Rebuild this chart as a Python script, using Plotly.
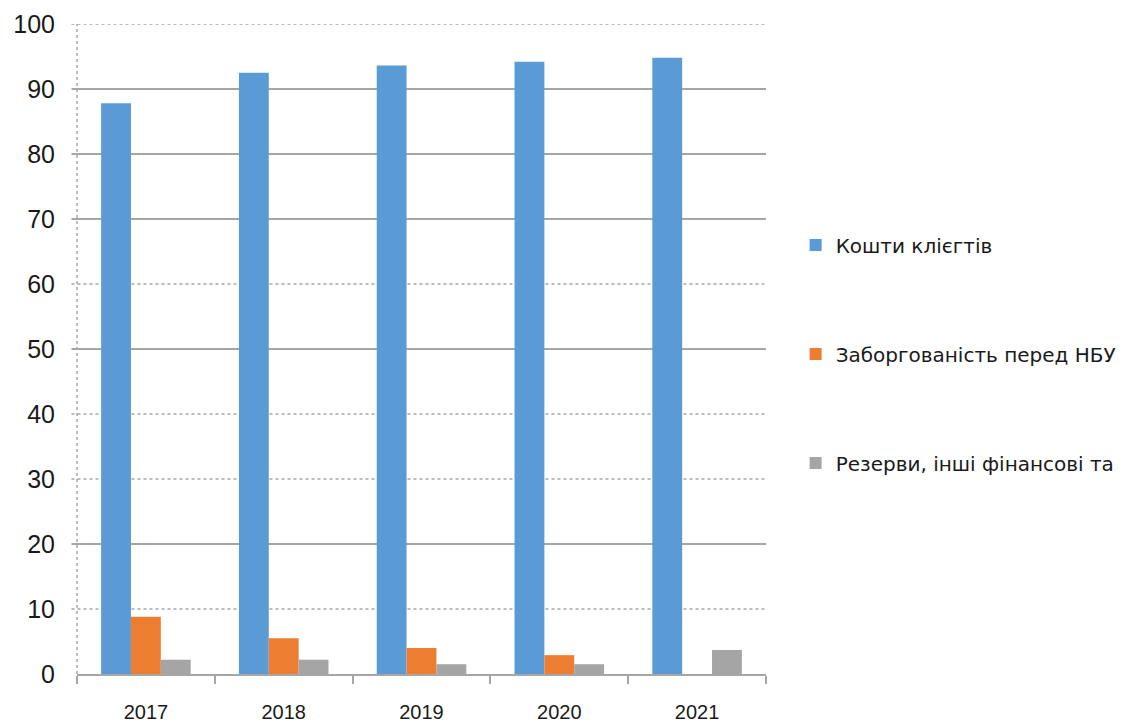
import plotly.graph_objects as go

years = ["2017", "2018", "2019", "2020", "2021"]
series_names = ["Кошти клієгтів", "Заборгованість перед НБУ", "Резерви, інші фінансові та"]
client_funds = [87.8, 92.5, 93.6, 94.2, 94.8]
nbu_debt = [8.8, 5.5, 4.0, 2.9, 0.0]
reserves_other = [2.2, 2.2, 1.5, 1.5, 3.7]
y_ticks = [0, 10, 20, 30, 40, 50, 60, 70, 80, 90, 100]

colors = ["#5b9bd5", "#ed7d31", "#a5a5a5"]
values = [client_funds, nbu_debt, reserves_other]

fig = go.Figure()
for i, (name, vals) in enumerate(zip(series_names, values)):
    fig.add_trace(go.Bar(
        x=years, y=vals, name=name, marker_color=colors[i],
        marker_line_width=0, legendgroup=f"g{i}",
    ))

solid_levels = {20, 50, 70, 80, 90}
for v in y_ticks:
    if v == 0:
        continue
    fig.add_shape(type="line", xref="paper", yref="y", x0=-0.008, x1=1, y0=v, y1=v,
                  line=dict(color="#a6a6a6", width=2 if v in solid_levels else 1.5,
                            dash="solid" if v in solid_levels else "dot"),
                  layer="below")
fig.add_shape(type="line", xref="paper", yref="paper", x0=0, x1=0, y0=0, y1=1,
              line=dict(color="#a6a6a6", width=1.5, dash="dot"), layer="below")

fig.update_layout(
    width=1122, height=719,
    margin=dict(l=69, r=364, t=16, b=53, autoexpand=False),
    paper_bgcolor="white", plot_bgcolor="white",
    barmode="group", bargap=0.35, bargroupgap=0,
    font=dict(family="Liberation Sans, Arial, sans-serif", color="#1a1a1a"),
    showlegend=True,
    legend=dict(x=1.043, xanchor="left", y=0.69, yanchor="top",
                font=dict(size=20, family="DejaVu Sans, sans-serif", color="#1a1a1a"),
                tracegroupgap=80, itemwidth=30, bgcolor="rgba(0,0,0,0)"),
    xaxis=dict(showline=True, linecolor="#a6a6a6", linewidth=2, automargin=False,
               ticks="outside", tickson="boundaries", ticklen=8, tickcolor="#a6a6a6",
               tickwidth=1.5, showgrid=False, ticklabelstandoff=19,
               tickfont=dict(size=20)),
    yaxis=dict(range=[0, 100], tickvals=y_ticks, showgrid=False, zeroline=False,
               showline=False, ticks="", ticklabelstandoff=21, automargin=False,
               tickfont=dict(size=25)),
)

fig.write_html("out.html")
